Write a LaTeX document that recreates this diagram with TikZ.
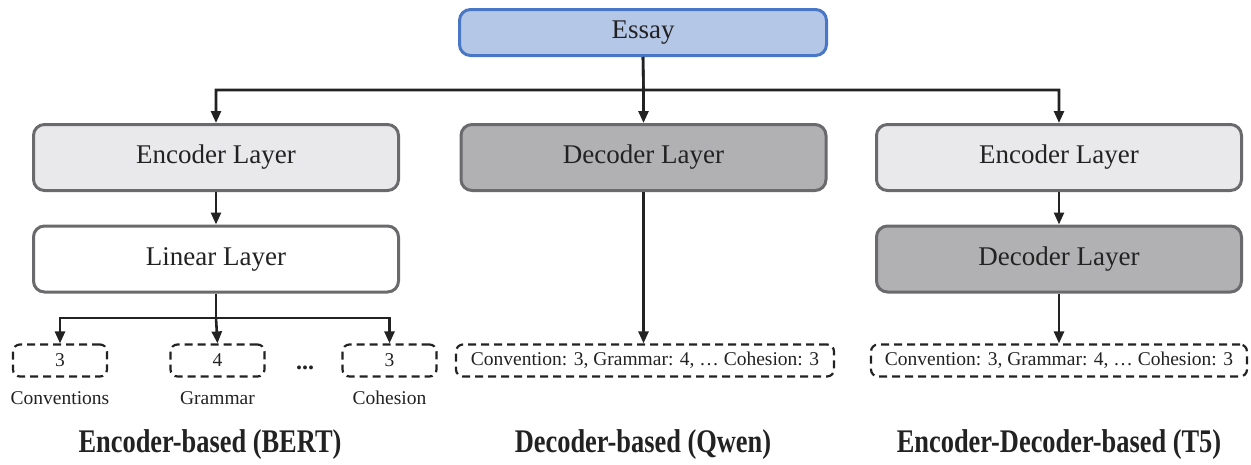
\documentclass[tikz,border=0pt]{standalone}
\usepackage{fontspec}
\setmainfont{Liberation Serif}
\newfontfamily\condfont[FakeStretch=0.8]{Liberation Serif}
\usetikzlibrary{arrows.meta,positioning}
\definecolor{essayfill}{HTML}{B4C7E7}
\definecolor{essayline}{HTML}{4A76C6}
\definecolor{encfill}{HTML}{E9E9EB}
\definecolor{decfill}{HTML}{B1B1B4}
\definecolor{boxline}{HTML}{6A6A6C}
\definecolor{ink}{HTML}{222222}
\tikzset{
  layerbox/.style={draw=boxline, line width=3pt, rounded corners=11pt,
    minimum width=365pt, minimum height=66pt, text=ink,
    font=\fontsize{27}{32}\selectfont},
  scorebox/.style={draw=ink, line width=2.2pt, rounded corners=7pt,
    dash pattern=on 8pt off 5pt, minimum height=32pt, text=ink,
    font=\fontsize{19.5}{23}\selectfont},
  arr/.style={-{Triangle[length=12pt,width=10pt]}, line width=2.6pt, draw=ink}
}
\begin{document}
\begin{tikzpicture}[x=1pt, y=-1pt]
  \useasboundingbox (0,0) rectangle (1251,464);
  \node[layerbox, draw=essayline, fill=essayfill, minimum width=367pt,
    minimum height=46pt] (essay) at (643,32.5) {Essay};
  \node[layerbox, fill=encfill] (encA) at (216,157.5) {Encoder Layer};
  \node[layerbox, fill=white] (linA) at (216,259) {Linear Layer};
  \node[layerbox, fill=decfill] (decB) at (643.5,157.5) {Decoder Layer};
  \node[layerbox, fill=encfill] (encC) at (1059,157.5) {Encoder Layer};
  \node[layerbox, fill=decfill] (decC) at (1059,259) {Decoder Layer};
  \coordinate (split) at (643.5,90);
  \draw[arr] (essay.south) -- (split) -| (encA.north);
  \draw[arr] (essay.south) -- (split) -| (encC.north);
  \draw[arr] (split) -- (decB.north);
  \draw[arr] (encA) -- (linA);
  \draw[arr] (encC) -- (decC);
  \node[scorebox, minimum width=94pt] (sA1) at (60,360.5) {3};
  \node[scorebox, minimum width=94pt] (sA2) at (217.5,360.5) {4};
  \node[scorebox, minimum width=94pt] (sA3) at (389.5,360.5) {3};
  \node[text=ink, font=\bfseries\fontsize{24}{26}\selectfont, inner sep=0pt] (dots) at (305,368) {...};
  \coordinate (fork) at (216,318);
  \draw[arr] (linA.south) -- (fork) -| (sA1.north);
  \draw[arr] (linA.south) -- (fork) -| (sA3.north);
  \draw[arr] (fork) -- (sA2.north);
  \node[scorebox, minimum width=378pt] (sB) at (645,360.5)
    {Convention: 3, Grammar: 4, … Cohesion: 3};
  \node[scorebox, minimum width=376pt] (sC) at (1059,360.5)
    {Convention: 3, Grammar: 4, … Cohesion: 3};
  \draw[arr] (decB) -- (sB.north -| decB);
  \draw[arr] (decC) -- (sC.north -| decC);
  \node[text=ink, font=\fontsize{19.5}{23}\selectfont] (lA1) at (60,398) {Conventions};
  \node[text=ink, font=\fontsize{19.5}{23}\selectfont] (lA2) at (217.5,398) {Grammar};
  \node[text=ink, font=\fontsize{19.5}{23}\selectfont] (lA3) at (389.5,398) {Cohesion};
  \node[text=ink, font=\condfont\bfseries\fontsize{33}{36}\selectfont] (tA) at (210,445) {Encoder-based (BERT)};
  \node[text=ink, font=\condfont\bfseries\fontsize{33}{36}\selectfont] (tB) at (643,445) {Decoder-based (Qwen)};
  \node[text=ink, font=\condfont\bfseries\fontsize{33}{36}\selectfont] (tC) at (1059,445) {Encoder-Decoder-based (T5)};
\end{tikzpicture}
\end{document}
